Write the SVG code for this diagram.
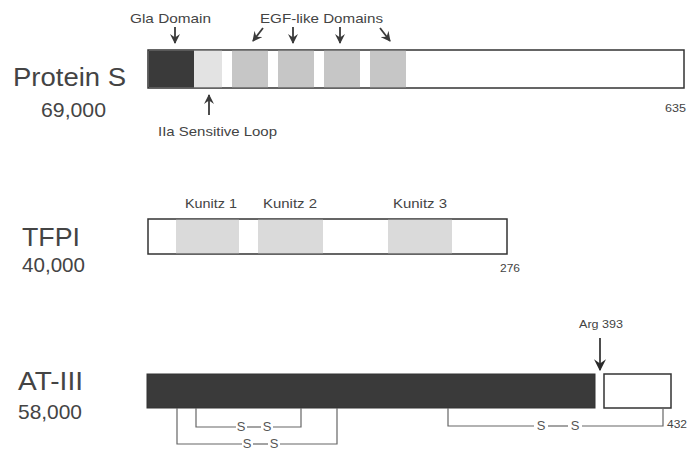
<svg xmlns="http://www.w3.org/2000/svg" width="687" height="457" viewBox="0 0 687 457">
<defs>
<marker id="ah" viewBox="0 0 10 10" refX="9" refY="5" markerWidth="10" markerHeight="10" markerUnits="userSpaceOnUse" orient="auto">
<path d="M0,0 L10,5 L0,10 L3.5,5 Z" fill="#3a3a3a"/>
</marker>
<marker id="ahb" viewBox="0 0 10 10" refX="9" refY="5" markerWidth="12" markerHeight="12" markerUnits="userSpaceOnUse" orient="auto">
<path d="M0,0 L10,5 L0,10 L3.5,5 Z" fill="#2a2a2a"/>
</marker>
<style>
text{font-family:"Liberation Sans",Arial,sans-serif;fill:#444}
.big{font-size:26px}
.mw{font-size:21px}
.lab{font-size:13px}
.sm{font-size:11px}
.bar{stroke:#333;stroke-width:1.5}
.arr{stroke:#3a3a3a;stroke-width:1.8;fill:none}
.ss{stroke:#666;stroke-width:1.2;fill:none}
.ssT{font-size:13px;fill:#555}
</style>
</defs>
<rect width="687" height="457" fill="#fff"/>

<g id="proteinS">
<text class="big" x="13" y="86" textLength="113" lengthAdjust="spacingAndGlyphs">Protein S</text>
<text class="mw" x="41" y="117" textLength="65" lengthAdjust="spacingAndGlyphs">69,000</text>
<rect class="bar" x="148" y="50" width="536" height="38" fill="#fff"/>
<rect x="148.75" y="50.75" width="45.25" height="36.5" fill="#3a3a3a"/>
<rect x="194" y="50.75" width="28" height="36.5" fill="#e3e3e3"/>
<rect x="232" y="50.75" width="36" height="36.5" fill="#c6c6c6"/>
<rect x="278" y="50.75" width="36" height="36.5" fill="#c6c6c6"/>
<rect x="324" y="50.75" width="36" height="36.5" fill="#c6c6c6"/>
<rect x="370" y="50.75" width="36" height="36.5" fill="#c6c6c6"/>
<text class="lab" x="130" y="23" textLength="81" lengthAdjust="spacingAndGlyphs">Gla Domain</text>
<text class="lab" x="260" y="23" textLength="123" lengthAdjust="spacingAndGlyphs">EGF-like Domains</text>
<text class="lab" x="158" y="136" textLength="119" lengthAdjust="spacingAndGlyphs">IIa Sensitive Loop</text>
<text class="sm" x="665" y="112" textLength="21" lengthAdjust="spacingAndGlyphs">635</text>
</g>

<g id="tfpi">
<text class="big" x="22" y="246" textLength="58" lengthAdjust="spacingAndGlyphs">TFPI</text>
<text class="mw" x="22" y="272" textLength="63" lengthAdjust="spacingAndGlyphs">40,000</text>
<rect class="bar" x="148" y="219" width="359" height="35" fill="#fff"/>
<rect x="176" y="219.75" width="63" height="33.5" fill="#dadada"/>
<rect x="258" y="219.75" width="65" height="33.5" fill="#dadada"/>
<rect x="388" y="219.75" width="64" height="33.5" fill="#dadada"/>
<text class="lab" x="185" y="208" textLength="52" lengthAdjust="spacingAndGlyphs">Kunitz 1</text>
<text class="lab" x="263" y="208" textLength="54" lengthAdjust="spacingAndGlyphs">Kunitz 2</text>
<text class="lab" x="393" y="208" textLength="54" lengthAdjust="spacingAndGlyphs">Kunitz 3</text>
<text class="sm" x="500" y="272" textLength="20" lengthAdjust="spacingAndGlyphs">276</text>
</g>

<g id="at3">
<text class="big" x="18" y="390" textLength="65" lengthAdjust="spacingAndGlyphs">AT-III</text>
<text class="mw" x="18" y="419" textLength="64" lengthAdjust="spacingAndGlyphs">58,000</text>
<rect x="147" y="374" width="448" height="34" fill="#3a3a3a" stroke="#333" stroke-width="1"/>
<rect class="bar" x="604" y="374" width="67" height="34" fill="#fff"/>
<text class="sm" x="579" y="328" textLength="44" lengthAdjust="spacingAndGlyphs">Arg 393</text>
<text class="sm" x="667" y="428" textLength="20" lengthAdjust="spacingAndGlyphs">432</text>
</g>

<g id="disulfides">
<path class="ss" d="M196,408 V427 H236 M273,427 H301 V408"/>
<text class="ssT" x="241" y="431" text-anchor="middle">S</text>
<text class="ssT" x="267" y="431" text-anchor="middle">S</text>
<path class="ss" d="M247,427 H261"/>
<path class="ss" d="M177,408 V444 H242 M280,444 H337 V408"/>
<text class="ssT" x="247" y="448" text-anchor="middle">S</text>
<text class="ssT" x="274" y="448" text-anchor="middle">S</text>
<path class="ss" d="M253,444 H268"/>
<path class="ss" d="M448,408 V426 H534 M582,426 H663 V408"/>
<text class="ssT" x="541" y="430" text-anchor="middle">S</text>
<text class="ssT" x="575" y="430" text-anchor="middle">S</text>
<path class="ss" d="M548,426 H568"/>
</g>

<g id="connectors">
<line class="arr" x1="175" y1="27" x2="175" y2="43" marker-end="url(#ah)"/>
<line class="arr" x1="263" y1="28" x2="253" y2="41" marker-end="url(#ah)"/>
<line class="arr" x1="293" y1="27" x2="293" y2="43" marker-end="url(#ah)"/>
<line class="arr" x1="340" y1="27" x2="340" y2="43" marker-end="url(#ah)"/>
<line class="arr" x1="380" y1="28" x2="390" y2="41" marker-end="url(#ah)"/>
<line class="arr" x1="209" y1="115" x2="209" y2="95" marker-end="url(#ah)"/>
<line class="arr" x1="600" y1="338" x2="600" y2="370" stroke="#2a2a2a" stroke-width="1.8" marker-end="url(#ahb)"/>
</g>
</svg>
